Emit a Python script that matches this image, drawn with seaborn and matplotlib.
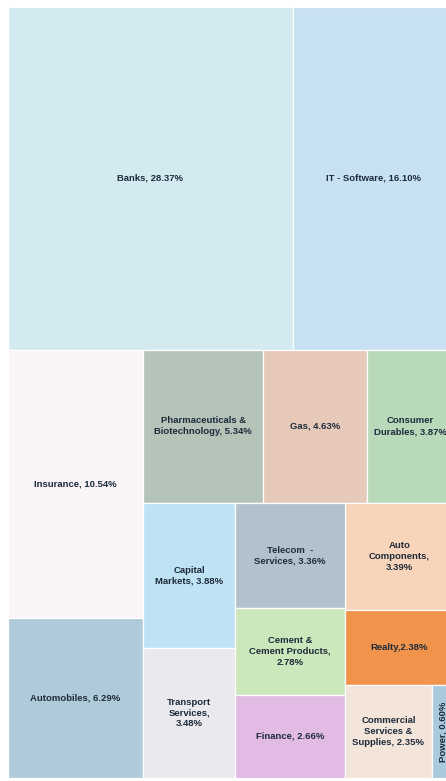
import matplotlib
matplotlib.use("Agg")
from matplotlib import pyplot as plt
from matplotlib.patches import Rectangle
import seaborn as sns

# sector weights (% of portfolio)
sectors = [
    "Banks", "IT - Software", "Insurance", "Automobiles",
    "Pharmaceuticals &\nBiotechnology", "Gas", "Capital\nMarkets", "Consumer\nDurables",
    "Transport\nServices", "Auto\nComponents", "Telecom  -\nServices", "Cement &\nCement Products",
    "Finance", "Realty", "Commercial\nServices &\nSupplies", "Power",
]
weights = [28.37, 16.10, 10.54, 6.29, 5.34, 4.63, 3.88, 3.87,
           3.48, 3.39, 3.36, 2.78, 2.66, 2.38, 2.35, 0.60]
value_sep = [", ", ", ", ", ", ", ", ", ", ", ", ", ", ", ",
             ",\n", ",\n", ", ", ",\n", ", ", ",", ", ", ", "]
colors = [
    "#d3eaf1", "#c7e1f3", "#faf4f9", "#afcbd9",
    "#b4c4b9", "#e7c9ba", "#bfe3f4", "#b9d9bb",
    "#e9e9ee", "#f8d5ba", "#b1c1cd", "#cbe7bb",
    "#e1bbe3", "#f1934b", "#f3e5da", "#a9c9dd",
]

# how the tiles nest: "v" stacks top to bottom, "h" puts side by side
layout = ("v", [
    ("h", [0, 1]),
    ("h", [
        ("v", [2, 3]),
        ("v", [
            ("h", [4, 5, 7]),
            ("h", [
                ("v", [6, 8]),
                ("v", [10, 11, 12]),
                ("v", [9, 13, ("h", [14, 15])]),
            ]),
        ]),
    ]),
])


def node_total(node):
    if isinstance(node, int):
        return weights[node]
    return sum(node_total(c) for c in node[1])


def place(node, x, y, w, h, out):
    if isinstance(node, int):
        out[node] = (x, y, w, h)
        return
    direction, children = node
    total = node_total(node)
    pos = 0.0
    for c in children:
        frac = node_total(c) / total
        if direction == "h":
            place(c, x + pos * w, y, frac * w, h, out)
        else:
            place(c, x, y + pos * h, w, frac * h, out)
        pos += frac


W, H = 446.0, 771.0
rects = {}
place(layout, 0, 0, W, H, rects)

sns.set_style("white")
plt.rcParams["font.family"] = ["Liberation Sans", "DejaVu Sans"]

fig = plt.figure(figsize=(4.46, 7.81), dpi=100)
ax = fig.add_axes([8 / 446, 3 / 781, W / 446, H / 781])
ax.set_xlim(0, W)
ax.set_ylim(H, 0)

for i, name in enumerate(sectors):
    x, y, w, h = rects[i]
    ax.add_patch(Rectangle((x, y), w, h, facecolor=colors[i],
                           edgecolor="white", linewidth=0.9))
    label = f"{name}{value_sep[i]}{weights[i]:.2f}%"
    rot = 90 if w < 30 and h > w else 0
    ax.text(x + w / 2, y + h / 2, label, ha="center", va="center",
            fontsize=6.8, fontweight="bold", color="#1d2b3a",
            rotation=rot, linespacing=1.25)

ax.set_axis_off()
fig.savefig("out.png", dpi=100)
